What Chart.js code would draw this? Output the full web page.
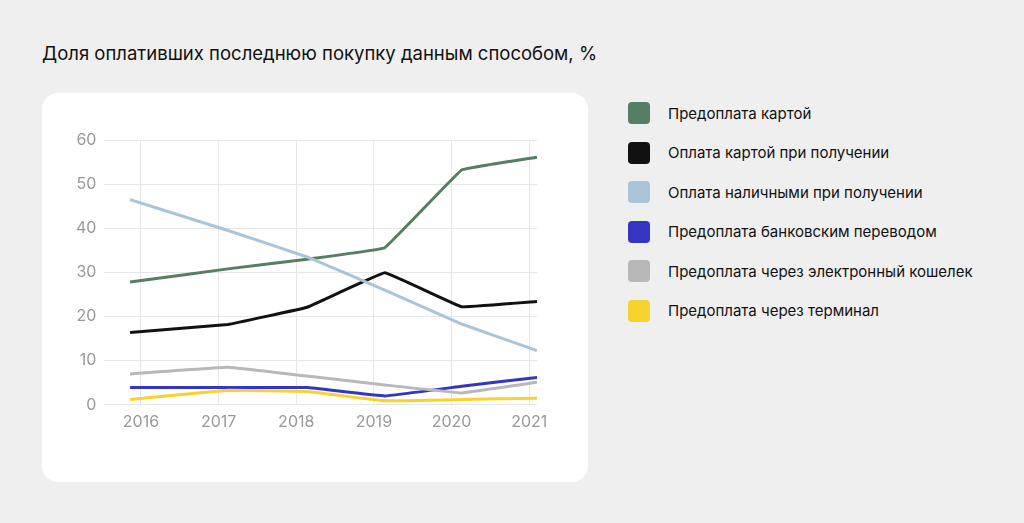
<!DOCTYPE html>
<html><head><meta charset="utf-8">
<script src="https://cdn.jsdelivr.net/npm/chart.js@4"></script>
<style>
body{margin:0;width:1024px;height:523px;background:#efefef;font-family:Inter,"Noto Sans",sans-serif;position:relative;overflow:hidden}
h1{position:absolute;left:42px;top:42px;margin:0;font-size:18.5px;font-weight:400;color:#111}
#card{position:absolute;left:42px;top:93px;width:546px;height:389px;background:#fff;border-radius:16px}
#legend{position:absolute;left:628px;top:102px}
.row{display:flex;align-items:center;height:22px;margin-bottom:17.5px;font-size:15px;color:#111}
.sw{width:22px;height:22px;border-radius:4px;margin-right:18px}
</style></head><body>
<h1>Доля оплативших последнюю покупку данным способом, %</h1>
<div id="card"><canvas id="c" width="546" height="389"></canvas></div>
<div id="legend"></div>
<script>
const seriesNames = ['Предоплата картой', 'Оплата картой при получении', 'Оплата наличными при получении', 'Предоплата банковским переводом', 'Предоплата через электронный кошелек', 'Предоплата через терминал'];
const colors = ['#557f63', '#111111', '#a9c4d8', '#3535c4', '#b8b8b8', '#f8d22f'];
// positions of points on the year axis (points sit a bit off the year gridlines in the original)
const xPos = [2015.86, 2017.12, 2018.14, 2019.14, 2020.13, 2021.1];
const yearTicks = [2016, 2017, 2018, 2019, 2020, 2021];
const cardPrepay = [27.8, 30.8, 33, 35.6, 53.2, 56.1];
const cardOnDelivery = [16.4, 18.2, 22.1, 29.9, 22.2, 23.4];
const cashOnDelivery = [46.5, 39.5, 33.5, 26, 18.3, 12.3];
const bankTransfer = [3.9, 3.9, 3.9, 2, 4.2, 6.2];
const eWallet = [7, 8.5, 6.5, 4.5, 2.7, 5.1];
const terminal = [1.2, 3.3, 3, 0.9, 1.2, 1.5];
const allSeries = [cardPrepay, cardOnDelivery, cashOnDelivery, bankTransfer, eWallet, terminal];

const legend = document.getElementById('legend');
seriesNames.forEach((n, i) => {
    legend.innerHTML += '<div class="row"><div class="sw" style="background:' + colors[i] + '"></div>' + n + '</div>';
});

const order = [4, 5, 3, 2, 1, 0];
new Chart(document.getElementById('c').getContext('2d'), {
    type: 'line',
    data: {
        datasets: order.map(i => ({
            label: seriesNames[i],
            data: allSeries[i].map((v, k) => ({x: xPos[k], y: v})),
            borderColor: colors[i],
            borderWidth: 3,
            pointRadius: 0,
            tension: 0.05,
        }))
    },
    options: {
        responsive: false,
        animation: false,
        layout: {padding: {left: 26, right: 51, top: 47, bottom: 42}},
        plugins: {legend: {display: false}, tooltip: {enabled: false}},
        scales: {
            x: {
                type: 'linear', min: 2015.53, max: 2021.1,
                afterBuildTicks: ax => { ax.ticks = yearTicks.map(v => ({value: v})); },
                ticks: {color: '#999', font: {size: 16, family: 'Inter'}, callback: v => String(v), autoSkip: false, maxRotation: 0, padding: 8},
                grid: {color: '#e6e6e6', drawTicks: false},
                border: {display: false},
            },
            y: {
                min: 0, max: 60,
                ticks: {stepSize: 10, color: '#999', font: {size: 16, family: 'Inter'}, padding: 8},
                grid: {color: '#e6e6e6', drawTicks: false},
                border: {display: false},
            }
        }
    }
});
</script>
</body></html>
